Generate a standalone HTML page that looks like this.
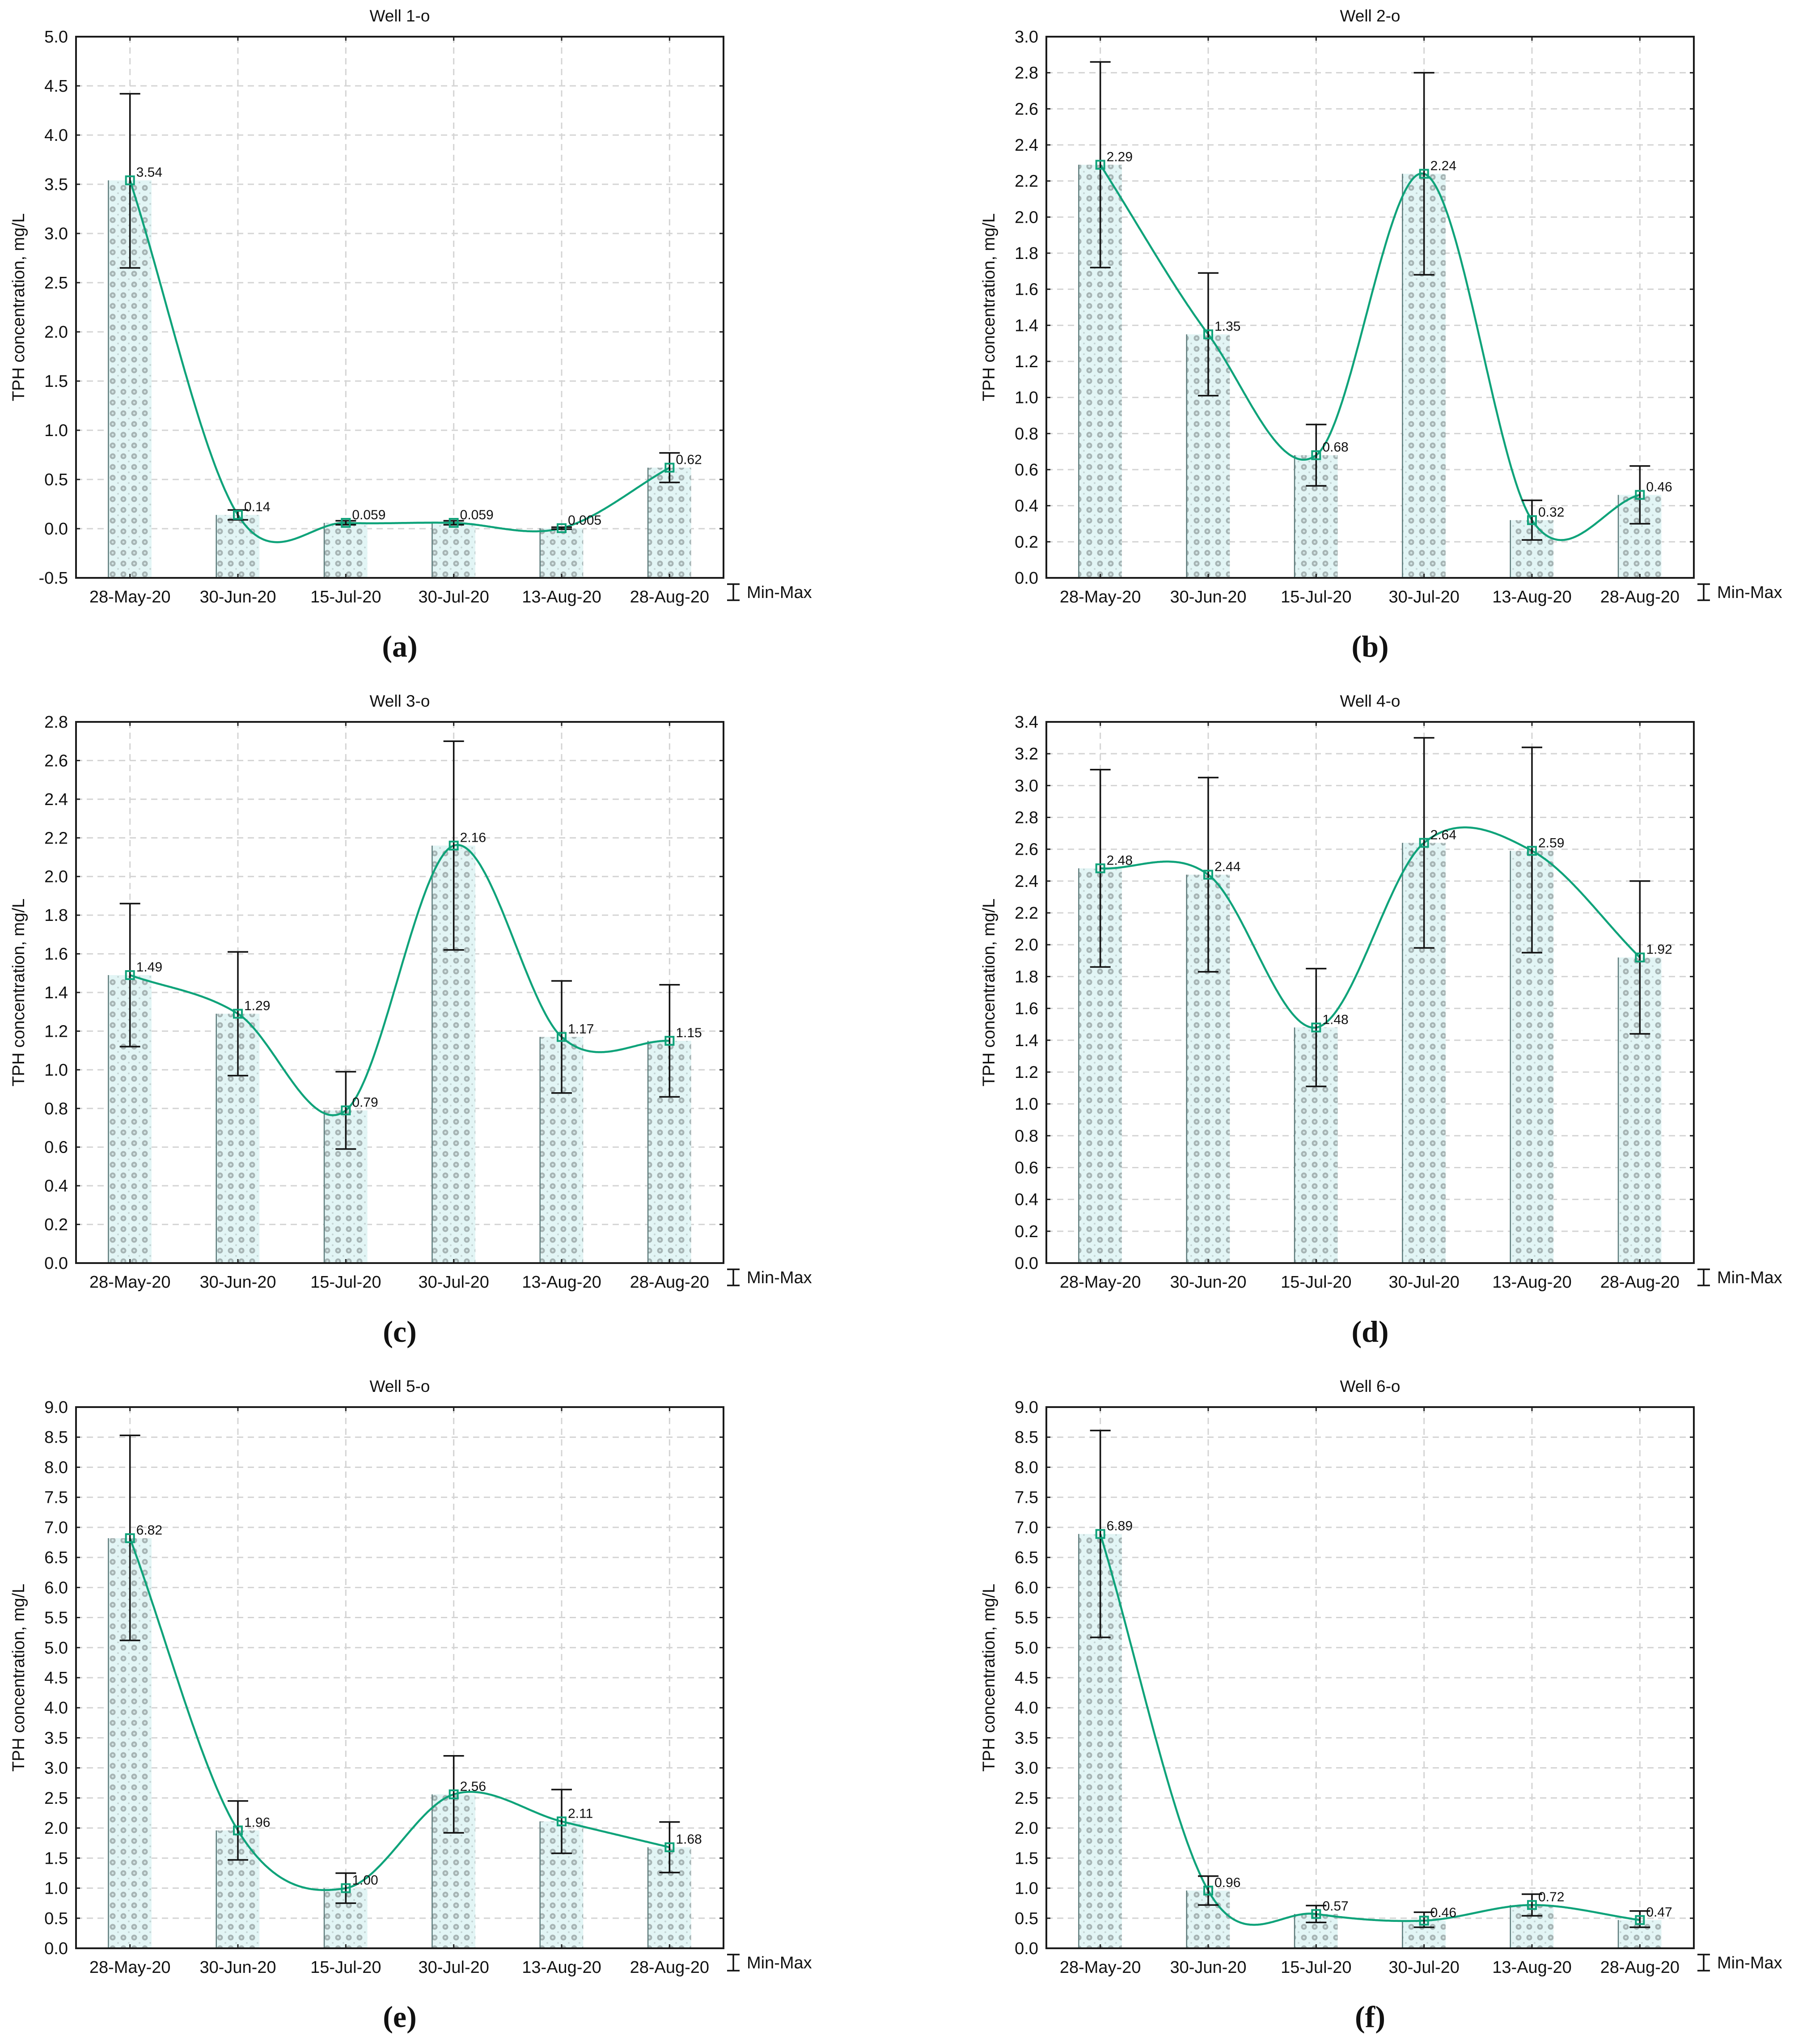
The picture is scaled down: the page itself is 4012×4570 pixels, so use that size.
<!DOCTYPE html>
<html><head><meta charset="utf-8"><title>TPH concentration by well</title>
<style>
html,body{margin:0;padding:0;background:#fff;}
svg{display:block;}
text{font-family:"Liberation Sans",Arial,sans-serif;fill:#111;}
</style></head>
<body>
<svg id="fig" width="4012" height="4570" viewBox="0 0 4012 4570" xmlns="http://www.w3.org/2000/svg">
<defs>
<pattern id="dots" width="24" height="24" patternUnits="userSpaceOnUse">
<rect width="24" height="24" fill="#e2f5f5"/>
<circle cx="12" cy="12" r="6.5" fill="#a6b4b4"/>
<circle cx="12" cy="12" r="2.5" fill="#d2e4e4"/>
<circle cx="0" cy="0" r="2" fill="#c4d4d4"/>
<circle cx="24" cy="0" r="2" fill="#c4d4d4"/>
<circle cx="0" cy="24" r="2" fill="#c4d4d4"/>
<circle cx="24" cy="24" r="2" fill="#c4d4d4"/>
</pattern>
</defs>
</svg>
<script>
const categories = ["28-May-20","30-Jun-20","15-Jul-20","30-Jul-20","13-Aug-20","28-Aug-20"];
const titles = ["Well 1-o","Well 2-o","Well 3-o","Well 4-o","Well 5-o","Well 6-o"];
const letters = ["(a)","(b)","(c)","(d)","(e)","(f)"];
const yMin = [-0.5,0,0,0,0,0];
const yMax = [5.0,3.0,2.8,3.4,9.0,9.0];
const yStep = [0.5,0.2,0.2,0.2,0.5,0.5];
const w1Mean = [3.54,0.14,0.059,0.059,0.005,0.62];
const w1Lo = [2.65,0.09,0.04,0.04,-0.005,0.47];
const w1Hi = [4.42,0.19,0.08,0.08,0.015,0.77];
const w1Lbl = ["3.54","0.14","0.059","0.059","0.005","0.62"];
const w2Mean = [2.29,1.35,0.68,2.24,0.32,0.46];
const w2Lo = [1.72,1.01,0.51,1.68,0.21,0.30];
const w2Hi = [2.86,1.69,0.85,2.80,0.43,0.62];
const w2Lbl = ["2.29","1.35","0.68","2.24","0.32","0.46"];
const w3Mean = [1.49,1.29,0.79,2.16,1.17,1.15];
const w3Lo = [1.12,0.97,0.59,1.62,0.88,0.86];
const w3Hi = [1.86,1.61,0.99,2.70,1.46,1.44];
const w3Lbl = ["1.49","1.29","0.79","2.16","1.17","1.15"];
const w4Mean = [2.48,2.44,1.48,2.64,2.59,1.92];
const w4Lo = [1.86,1.83,1.11,1.98,1.95,1.44];
const w4Hi = [3.10,3.05,1.85,3.30,3.24,2.40];
const w4Lbl = ["2.48","2.44","1.48","2.64","2.59","1.92"];
const w5Mean = [6.82,1.96,1.00,2.56,2.11,1.68];
const w5Lo = [5.12,1.47,0.75,1.92,1.58,1.26];
const w5Hi = [8.53,2.45,1.25,3.20,2.64,2.10];
const w5Lbl = ["6.82","1.96","1.00","2.56","2.11","1.68"];
const w6Mean = [6.89,0.96,0.57,0.46,0.72,0.47];
const w6Lo = [5.17,0.72,0.43,0.35,0.54,0.35];
const w6Hi = [8.61,1.20,0.71,0.60,0.90,0.62];
const w6Lbl = ["6.89","0.96","0.57","0.46","0.72","0.47"];

const means=[w1Mean,w2Mean,w3Mean,w4Mean,w5Mean,w6Mean];
const los=[w1Lo,w2Lo,w3Lo,w4Lo,w5Lo,w6Lo];
const his=[w1Hi,w2Hi,w3Hi,w4Hi,w5Hi,w6Hi];
const lbls=[w1Lbl,w2Lbl,w3Lbl,w4Lbl,w5Lbl,w6Lbl];

const NS="http://www.w3.org/2000/svg";
const svg=document.getElementById('fig');
function mk(tag,attrs,parent){const e=document.createElementNS(NS,tag);for(const k in attrs)e.setAttribute(k,attrs[k]);(parent||svg).appendChild(e);return e;}

function crSpline(ys){
  const n=ys.length, m=[];
  for(let i=0;i<n;i++){
    if(i===0)m.push(ys[1]-ys[0]);
    else if(i===n-1)m.push(ys[n-1]-ys[n-2]);
    else m.push((ys[i+1]-ys[i-1])/2);
  }
  return function(x){
    let j=Math.min(n-2,Math.max(0,Math.floor(x)));const t=x-j,t2=t*t,t3=t2*t;
    return (2*t3-3*t2+1)*ys[j]+(t3-2*t2+t)*m[j]+(-2*t3+3*t2)*ys[j+1]+(t3-t2)*m[j+1];
  };
}

const PW=1448, PH=1210;
for(let p=0;p<6;p++){
  const col=p%2,row=Math.floor(p/2);
  const ox=170+2170*col, oy=82+1532*row;
  const g=mk('g',{});
  
  
  const y0=yMin[p],y1=yMax[p];
  const Y=v=>oy+PH-(v-y0)/(y1-y0)*PH;
  const band=PW/categories.length;
  const X=i=>ox+band*(i+0.5);
  const nT=Math.round((y1-y0)/yStep[p]);
  for(let k=0;k<=nT;k++){
    const v=y0+k*yStep[p], yy=Y(v);
    if(k>0&&k<nT){const gl=mk('line',{x1:ox,x2:ox+PW,y1:yy,y2:yy,stroke:'#d4d4d4','stroke-width':3,'stroke-dasharray':'14 10'},g);
      }
    mk('line',{x1:ox,x2:ox+9,y1:yy,y2:yy,stroke:'#222','stroke-width':3},g);
    mk('line',{x1:ox+PW-9,x2:ox+PW,y1:yy,y2:yy,stroke:'#222','stroke-width':3},g);
    const t=mk('text',{x:ox-18,y:yy+13,'text-anchor':'end','font-size':38},g);
    t.textContent=v.toFixed(1);
    
  }
  for(let i=0;i<categories.length;i++){
    const gl=mk('line',{x1:X(i),x2:X(i),y1:oy,y2:oy+PH,stroke:'#d4d4d4','stroke-width':3,'stroke-dasharray':'14 10'},g);
    
  }
  const bw=band*0.4;
  for(let i=0;i<categories.length;i++){
    const v=means[p][i], top=Y(Math.max(v,y0)), bot=Y(y0);
    const r=mk('rect',{x:X(i)-bw/2,y:Math.min(top,bot),width:bw,height:Math.abs(bot-top),fill:'url(#dots)'},g);
    
    mk('line',{x1:X(i)-bw/2,x2:X(i)-bw/2,y1:top,y2:bot,stroke:'#5c7a7a','stroke-width':2.5},g);
    mk('line',{x1:X(i),x2:X(i),y1:oy,y2:oy+9,stroke:'#222','stroke-width':3},g);
    mk('line',{x1:X(i),x2:X(i),y1:oy+PH-9,y2:oy+PH,stroke:'#222','stroke-width':3},g);
  }
  const fr=mk('rect',{x:ox,y:oy,width:PW,height:PH,fill:'none',stroke:'#1a1a1a','stroke-width':4},g);
  
  const f=crSpline(means[p]);
  let d='';
  for(let s=0;s<=500;s++){const xi=s/500*(categories.length-1);d+=(s?'L':'M')+(ox+band*(xi+0.5)).toFixed(1)+','+Y(f(xi)).toFixed(1);}
  const ln=mk('path',{d:d,fill:'none',stroke:'#0fa37a','stroke-width':4.5},g);
  
  for(let i=0;i<categories.length;i++){
    const x=X(i), yl=Y(los[p][i]), yh=Y(his[p][i]), ym=Y(means[p][i]);
    const eb=mk('path',{d:`M${x},${yl}V${yh}M${x-23},${yh}H${x+23}M${x-23},${yl}H${x+23}`,stroke:'#111','stroke-width':3.5,fill:'none'},g);
    
    const m=mk('rect',{x:x-9,y:ym-9,width:18,height:18,fill:'none',stroke:'#0fa37a','stroke-width':4},g);
    
    const t=mk('text',{x:x+14,y:ym-8,'font-size':30},g);
    t.textContent=lbls[p][i];
    
    const xl=mk('text',{x:x,y:oy+PH+55,'text-anchor':'middle','font-size':38},g);
    xl.textContent=categories[i];
    
  }
  const tt=mk('text',{x:ox+PW/2,y:oy-34,'text-anchor':'middle','font-size':37},g);
  tt.textContent=titles[p];
  
  const ya=mk('text',{x:0,y:0,'text-anchor':'middle','font-size':38,transform:`translate(${ox-116},${oy+PH/2}) rotate(-90)`},g);
  ya.textContent='TPH concentration, mg/L';
  
  const lx=ox+PW+22, ly=oy+PH+14;
  const lg=mk('path',{d:`M${lx-14},${ly}H${lx+14}M${lx},${ly}V${ly+36}M${lx-14},${ly+36}H${lx+14}`,stroke:'#111','stroke-width':3.5,fill:'none'},g);
  
  const lt=mk('text',{x:lx+30,y:ly+31,'font-size':38},g);
  lt.textContent='Min-Max';
  
  const pl=mk('text',{x:ox+PW/2,y:oy+PH+176,'text-anchor':'middle','font-size':68,'font-weight':'bold',style:'font-family:"Liberation Serif",serif'},g);
  pl.textContent=letters[p];
  
}
</script>
</body></html>
